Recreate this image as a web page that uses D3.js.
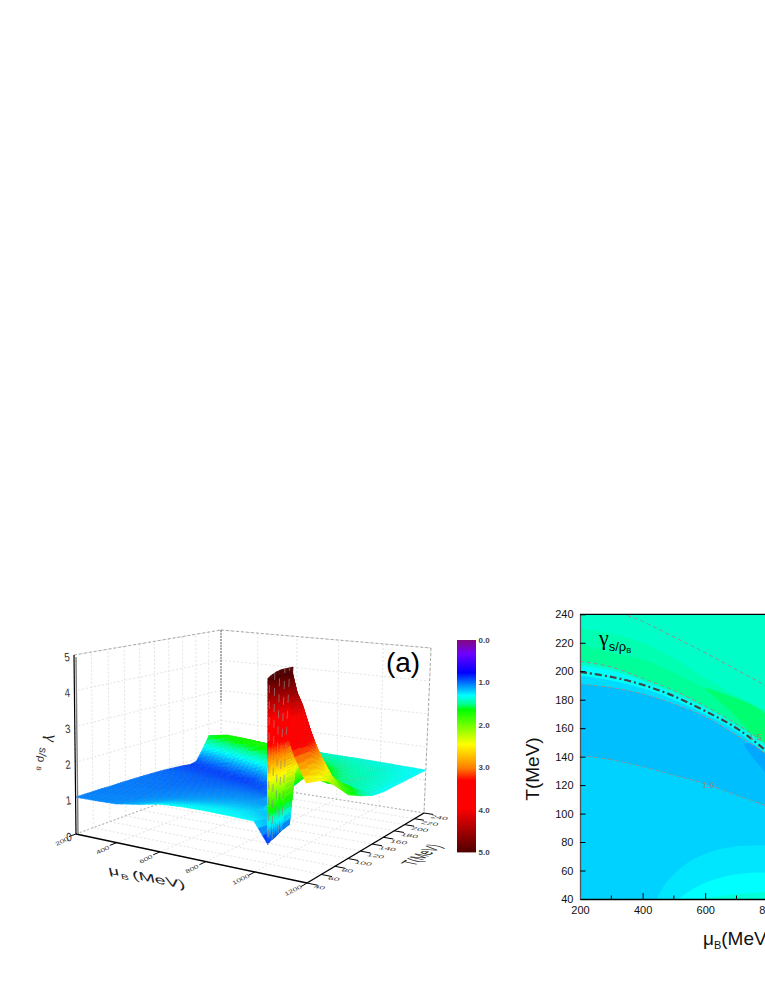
<!DOCTYPE html>
<html><head><meta charset="utf-8">
<script src="https://d3js.org/d3.v7.min.js"></script>
<style>html,body{margin:0;padding:0;background:#fff;overflow:hidden}svg{display:block;font-family:"Liberation Sans",Arial,sans-serif}</style>
</head><body><div id="c"></div>
<script>
// ---------- panel (a) data ----------
const rowsT=[40,50,60,70,80,90,100,120,140,150,160,170,180,190,200,210,220,240];
const colsMu=[200,300,400,500,600,700,800,900,1000,1050,1068,1085,1105,1130,1160,1200];
const zMu200=[1.03,1.03,1.03,1.03,1.02,1.02,1.02,1.01,.99,.98,.96,.94,.92,.88,.92,1.25,1.62,1.45];
const zMu300=[1.04,1.04,1.03,1.03,1.02,1.02,1.01,1.0,.98,.97,.95,.92,.90,.92,1.1,1.45,1.72,1.45];
const zMu400=[1.06,1.05,1.04,1.03,1.03,1.02,1.01,.99,.97,.96,.93,.91,.89,1.0,1.35,1.7,1.68,1.44];
const zMu500=[1.16,1.12,1.09,1.07,1.05,1.04,1.03,1.0,.97,.95,.92,.89,.95,1.25,1.65,1.72,1.62,1.42];
const zMu600=[1.28,1.22,1.17,1.12,1.09,1.07,1.05,1.02,.97,.94,.9,.9,1.15,1.55,1.72,1.68,1.55,1.42];
const zMu700=[1.32,1.27,1.22,1.17,1.13,1.1,1.07,1.03,.96,.92,.95,1.25,1.65,1.75,1.68,1.58,1.5,1.4];
const zMu800=[1.33,1.29,1.25,1.2,1.16,1.12,1.09,1.02,.95,1.15,1.5,1.8,1.75,1.65,1.55,1.5,1.45,1.38];
const zMu900=[1.32,1.28,1.25,1.2,1.16,1.12,1.07,1.3,2.0,1.9,1.8,1.7,1.6,1.52,1.48,1.45,1.42,1.37];
const zMu1000=[1.3,1.24,1.18,1.14,1.3,2.0,2.6,1.95,1.7,1.62,1.55,1.5,1.46,1.44,1.42,1.4,1.38,1.35];
const zMu1050=[.8,.85,.95,1.0,2.6,2.6,2.2,1.75,1.55,1.5,1.47,1.45,1.43,1.42,1.4,1.39,1.37,1.34];
const zMu1068=[5,5,5,5,3.5,2.5,2.0,1.7,1.5,1.47,1.45,1.43,1.42,1.41,1.4,1.38,1.36,1.33];
const zMu1085=[4.7,4.85,4.9,4.5,3.6,2.9,2.3,1.75,1.48,1.45,1.44,1.42,1.41,1.4,1.39,1.37,1.35,1.33];
const zMu1105=[4.3,4.4,4.5,4.2,3.5,2.9,2.3,1.8,1.47,1.44,1.42,1.41,1.4,1.39,1.38,1.36,1.34,1.32];
const zMu1130=[3.7,3.75,3.8,3.5,3.0,2.6,2.1,1.75,1.45,1.42,1.41,1.4,1.38,1.37,1.36,1.35,1.33,1.32];
const zMu1160=[3.1,3.1,3.1,2.9,2.6,2.25,1.9,1.65,1.42,1.4,1.38,1.37,1.36,1.35,1.34,1.33,1.32,1.31];
const zMu1200=[2.5,2.45,2.4,2.3,2.1,1.9,1.7,1.5,1.35,1.32,1.3,1.3,1.3,1.3,1.3,1.3,1.3,1.3];
const surface=[zMu200,zMu300,zMu400,zMu500,zMu600,zMu700,zMu800,zMu900,zMu1000,zMu1050,zMu1068,zMu1085,zMu1105,zMu1130,zMu1160,zMu1200];
// jump wall: top edge and bottom edge
const wallT=[40,42,44,46,48,50,52,54,56,58,60,62,64,66,68,70];
const wallMu=[1064,1064,1065,1065,1066,1066,1067,1067,1068,1068,1069,1069,1070,1070,1071,1071];
const wallTLow=[40,41,42,44,45,46,47,49,50,51,52,53,55,56,57,58];
const wallMuLow=[1053,1053,1054,1054,1055,1055,1056,1056,1057,1057,1058,1058,1059,1059,1060,1060];
const wallLow=[.76,.95,.8,1.0,.84,1.02,.88,1.05,.92,1.08,.96,1.1,1.0,.98,1.18,1.15];
const wallHigh=[5.0,5.03,5.06,5.08,5.1,5.12,5.13,5.14,5.15,5.15,5.15,5.15,5.15,5.15,5.15,5.15];
const muTicks3d=[200,400,600,800,1000,1200];
const tTicks3d=[40,60,80,100,120,140,160,180,200,220,240];
const zTicks3d=[0,1,2,3,4,5];
const barStops=[0,.31,.76,1.03,1.3,1.5,1.63,2.05,2.45,3.0,3.3,3.95,4.55,5];
const barColors=["#800a80","#7000ff","#0000ff","#0080ff","#00ffff","#00ff90","#00ff00","#80ff00","#ffff00","#ff8000","#ff0000","#ff0000","#990000","#500000"];
const barTicks=[0,1,2,3,4,5];
// ---------- panel (b) data ----------
const muGrid=[200,300,400,500,600,700,800,900];
const tBand1=[230,226.5,220,209,195,183,172,160];
const tBand2=[219,213,208,199,188,178,167,150];
const blobGreenMu=[600,650,700,760,830,850,830,790,740,690,640];
const blobGreenT=[188,185,181,175,163,150,140,146,158,170,180];
const tC1=[248,243,235,224,213,201,189,175];
const tC2=[207,203,195,186.5,175.5,163,148,130];
const tCyan=[204,200.5,193,184.5,174,161.5,146,127];
const tDash=[199.5,196,190.5,182.5,172,160,143,122];
const tMid=[197,193.5,188,180,170,158,141,120];
const tC3=[191,188.5,184,177,168,155,141,120];
const tC10=[141,137.8,133,127,121,113,105,96];
const blobBlueMu=[725,745,790,830,830,790,750];
const blobBlueT=[149,149,142,130,110,129,140];
const lowAMu=[445,477,541,616,701,792,900],lowAT=[40,52,65,73,77,77.5,75];
const lowBMu=[515,573,658,722,792,900],lowBT=[40,48.6,55.6,58,58.5,57];
const lowCMu=[587,680,791,900],lowCT=[40,43,45,46];
const muTicksB=[200,400,600,800,1000,1200];
const muMinorB=[300,500,700,900,1100];
const tTicksB=[40,60,80,100,120,140,160,180,200,220,240];

const svg=d3.select("#c").append("svg").attr("width",765).attr("height",990);

// ---------- 3D projection ----------
function homog(q){
  const [x0,y0]=q[0],[x1,y1]=q[1],[x2,y2]=q[2],[x3,y3]=q[3];
  const dx1=x1-x2,dx2=x3-x2,dy1=y1-y2,dy2=y3-y2,sx=x0-x1+x2-x3,sy=y0-y1+y2-y3;
  const d=dx1*dy2-dx2*dy1,g=(sx*dy2-dx2*sy)/d,h=(dx1*sy-sx*dy1)/d;
  const a=x1-x0+g*x1,b=x3-x0+h*x3,c=x0,e=y1-y0+g*y1,f=y3-y0+h*y3,i=y0;
  return (u,v)=>{const w=g*u+h*v+1;return [(a*u+b*v+c)/w,(e*u+f*v+i)/w];};
}
const floorH=homog([[76,834],[307,883],[424,813],[221,781]]);
const topH=homog([[74,655],[305,683],[431,648],[221,630]]);
const uS=d3.scaleLinear().domain([200,1200]).range([0,1]);
const vS=d3.scaleLinear().domain([40,240]).range([0,1]);
const wS=d3.scaleLinear().domain([0,5]).range([0,1]);
function P(mu,T,z){const u=uS(mu),v=vS(T),w=wS(z),a=floorH(u,v),b=topH(u,v);return [a[0]+(b[0]-a[0])*w,a[1]+(b[1]-a[1])*w];}
const line=d3.line();
const cmap=d3.scaleLinear().domain(barStops).range(barColors).clamp(true);

// ---------- grid walls & floor ----------
const g3=svg.append("g");
const lightDash={stroke:"#e0e0e0",w:.9,d:"2 2"};
function seg(a,b,s){g3.append("path").attr("d",line([a,b])).attr("fill","none").attr("stroke",s.stroke).attr("stroke-width",s.w).attr("stroke-dasharray",s.d);}
tTicks3d.forEach(t=>{seg(P(200,t,0),P(200,t,5),lightDash);seg(P(200,t,0),P(1200,t,0),lightDash);});
muTicks3d.forEach(m=>{seg(P(m,240,0),P(m,240,5),lightDash);seg(P(m,40,0),P(m,240,0),lightDash);});
zTicks3d.forEach(z=>{seg(P(200,40,z),P(200,240,z),lightDash);seg(P(200,240,z),P(1200,240,z),lightDash);});
const edge={stroke:"#a0a0a0",w:.9,d:"3 2"};
seg(P(200,40,5),P(200,240,5),edge);seg(P(200,240,5),P(1200,240,5),edge);
seg(P(1200,240,5),P(1200,240,0),edge);
seg(P(200,240,5),P(200,240,2.6),{stroke:"#666",w:1,d:"2 1"});
seg(P(200,40,0),P(200,240,0),{stroke:"#b0b0b0",w:.9,d:"2 2"});
seg(P(200,240,0),P(1200,240,0),{stroke:"#b0b0b0",w:.9,d:"2 2"});

// ---------- surface, back to front ----------
const gs=svg.append("g");
function quad(a,b,c,d,z,dots){
  const col=cmap(z);
  gs.append("path").attr("d",line([a,b,c,d])+"Z").attr("fill",col).attr("stroke",col).attr("stroke-width",.6);
  if(dots) gs.append("path").attr("d",line([a,b])).attr("fill","none").attr("stroke","#777").attr("stroke-opacity",.45).attr("stroke-width",.5).attr("stroke-dasharray","0.8 2.6");
}
for(let j=rowsT.length-2;j>=0;j--){
  for(let i=0;i<colsMu.length-1;i++){
    const T0=rowsT[j],T1=rowsT[j+1],m0=colsMu[i],m1=colsMu[i+1];
    const z00=surface[i][j],z10=surface[i+1][j],z01=surface[i][j+1],z11=surface[i+1][j+1];
    const dz=Math.max(z00,z10,z01,z11)-Math.min(z00,z10,z01,z11);
    const nt=Math.max(2,Math.round((T1-T0)/3.5),Math.ceil(dz*6));
    const nm=Math.max(2,Math.round((m1-m0)/25),Math.ceil(dz*6));
    for(let b=nt-1;b>=0;b--)for(let a=0;a<nm;a++){
      const s0=a/nm,s1=(a+1)/nm,t0=b/nt,t1=(b+1)/nt;
      const zf=(s,t)=>(z00*(1-s)+z10*s)*(1-t)+(z01*(1-s)+z11*s)*t;
      const pt=(s,t)=>P(m0+(m1-m0)*s,T0+(T1-T0)*t,zf(s,t));
      quad(pt(s0,t1),pt(s1,t1),pt(s1,t0),pt(s0,t0),zf((s0+s1)/2,(t0+t1)/2),true);
    }
  }
}
// ---------- jump wall on top ----------
function wallPt(k,f){return P(wallMuLow[k]+(wallMu[k]-wallMuLow[k])*f,wallTLow[k]+(wallT[k]-wallTLow[k])*f,wallLow[k]+(wallHigh[k]-wallLow[k])*f);}
function wallZ(k,f){return wallLow[k]+(wallHigh[k]-wallLow[k])*f;}
for(let k=wallT.length-2;k>=0;k--){
  const steps=44;
  for(let q=0;q<steps;q++){
    const f0=q/steps,f1=(q+1)/steps;
    const zm=(wallZ(k,f0)+wallZ(k,f1)+wallZ(k+1,f0)+wallZ(k+1,f1))/4;
    quad(wallPt(k,f0),wallPt(k+1,f0),wallPt(k+1,f1),wallPt(k,f1),zm,false);
  }
}
wallT.forEach((t,k)=>{ if(k%3===1){
  gs.append("path").attr("d",line([wallPt(k,0),wallPt(k,1)]))
   .attr("fill","none").attr("stroke","#8a8a8a").attr("stroke-opacity",.75).attr("stroke-width",.9).attr("stroke-dasharray","8 8");
}});

// ---------- 3D axes ----------
const ax=svg.append("g");
function axisLine(a,b,w,c){ax.append("path").attr("d",line([a,b])).attr("stroke",c||"#000").attr("stroke-width",w).attr("fill","none");}
axisLine(P(200,40,0),P(1200,40,0),1.4);
axisLine(P(1200,40,0),P(1200,240,0),1.4);
axisLine(P(200,40,0),P(200,40,5),1.2);
const a0=P(200,40,0),a1=P(200,40,5);
axisLine([a0[0]+2,a0[1]],[a1[0]+2,a1[1]+2],1.4,"#808080");
muTicks3d.forEach(m=>{
  axisLine(P(m,40,0),P(m,32,0),1);
  const p=P(m,40,0);
  ax.append("text").attr("transform",`matrix(.88,-.42,.35,.55,${p[0]-13},${p[1]+9})`).attr("font-size",8.5).attr("fill","#333").attr("text-anchor","middle").text(m);
});
tTicks3d.forEach(t=>{
  axisLine(P(1200,t,0),P(1240,t,0),1);
  const p=P(1200,t,0);
  ax.append("text").attr("transform",`matrix(1.12,.16,-.3,.48,${p[0]+6},${p[1]+5})`).attr("font-size",9).attr("fill","#333").text(t);
});
zTicks3d.forEach(z=>{
  const p=P(200,40,z);
  ax.append("text").attr("transform",`matrix(.8,-.08,.1,1,${p[0]-4},${p[1]+(z===0?7:6)})`).attr("font-size",12).attr("fill","#333").attr("text-anchor","end").text(z);
});
ax.append("text").attr("transform","matrix(1.3,.26,.42,.85,110,874)").attr("font-size",15).attr("font-style","italic").attr("fill","#222")
  .html('μ<tspan font-size="9" dy="3">B</tspan><tspan dy="-3"> (MeV)</tspan>');
ax.append("text").attr("transform","matrix(.62,-.42,1.4,.28,414,866)").attr("font-size",14).attr("fill","#222").text("T(MeV)");
ax.append("text").attr("transform","translate(47,734) rotate(100)").attr("font-size",17).attr("fill","#222").attr("font-family","'Liberation Serif',serif").text("γ");
ax.append("text").attr("transform","translate(40,747) rotate(100)").attr("font-size",11).attr("fill","#333").text("s/ρ");
ax.append("text").attr("transform","translate(37,766) rotate(100)").attr("font-size",6.5).attr("fill","#333").text("B");
ax.append("text").attr("x",403).attr("y",672).attr("font-size",28).attr("text-anchor","middle").attr("fill","#000").text("(a)");

// ---------- colour bar ----------
const barY=d3.scaleLinear().domain([0,5]).range([640,852]);
const bar=svg.append("g");
d3.range(0,5,5/212).forEach(z=>{
  bar.append("rect").attr("x",457).attr("y",barY(z)).attr("width",19).attr("height",1.4).attr("fill",cmap(z));
});
barTicks.forEach(t=>{
  bar.append("text").attr("x",478.5).attr("y",barY(t)+3).attr("font-size",8).attr("font-weight","bold").attr("fill","#444").text(t.toFixed(1));
});

// ---------- panel (b) ----------
const x=d3.scaleLinear().domain([200,1200]).range([580,893]);
const y=d3.scaleLinear().domain([40,240]).range([899,614.3]);
const defs=svg.append("defs");
defs.append("clipPath").attr("id","plot").append("rect").attr("x",x(200)).attr("y",y(240)).attr("width",x(1200)-x(200)).attr("height",y(40)-y(240));
const gb=svg.append("g").attr("clip-path","url(#plot)");
gb.append("rect").attr("x",x(200)).attr("y",y(240)).attr("width",x(1200)-x(200)).attr("height",y(40)-y(240)).attr("fill","#00ffc8");
const area=d3.area().x(d=>x(d[0])).y0(y(40)).y1(d=>y(d[1])).curve(d3.curveCatmullRom);
const lineB=d3.line().x(d=>x(d[0])).y(d=>y(d[1])).curve(d3.curveCatmullRom);
const closed=d3.line().x(d=>x(d[0])).y(d=>y(d[1])).curve(d3.curveCatmullRomClosed);
const zipT=(ms,ts)=>ms.map((m,i)=>[m,ts[i]]);
const band=(ts,c)=>gb.append("path").attr("d",area(zipT(muGrid,ts))).attr("fill",c);
band(tBand1,"#00ffb0");
band(tBand2,"#00ff98");
gb.append("path").attr("d",closed(zipT(blobGreenMu,blobGreenT))).attr("fill","#00ff70");
band(tC2,"#00ffc4");
band(tCyan,"#00fff8");
band(tMid,"#00dcff");
band(tC3,"#00bfff");
gb.append("path").attr("d",closed(zipT(blobBlueMu,blobBlueT))).attr("fill","#00a8ff");
band(tC10,"#00d2ff");
gb.append("path").attr("d",area(zipT(lowAMu,lowAT))).attr("fill","#00e6ff");
gb.append("path").attr("d",area(zipT(lowBMu,lowBT))).attr("fill","#00ffff");
gb.append("path").attr("d",area(zipT(lowCMu,lowCT))).attr("fill","#00ffd8");
const dashC=(ts)=>gb.append("path").attr("d",lineB(zipT(muGrid,ts))).attr("fill","none").attr("stroke","#909090").attr("stroke-width",1).attr("stroke-dasharray","4 3");
[tC1,tC2,tC3,tC10].forEach(dashC);
gb.append("path").attr("d",lineB(zipT(muGrid,tDash))).attr("fill","none").attr("stroke","#444").attr("stroke-width",2.2).attr("stroke-dasharray","7 3 2 3");
gb.append("text").attr("x",x(610)).attr("y",y(120)+3).attr("font-size",9).attr("text-anchor","middle").attr("fill","#8a8a8a").text("1.0");
gb.append("text").attr("x",x(760)).attr("y",y(154)+3).attr("font-size",9).attr("text-anchor","middle").attr("fill","#7d9a8a").text("1.5");
// frame
const xAxis=d3.axisBottom(x).tickValues(muTicksB).tickSizeInner(-6).tickSizeOuter(0).tickPadding(7).tickFormat(d3.format("d"));
const gx=svg.append("g").attr("transform",`translate(0,${y(40)})`).call(xAxis);
const yAxis=d3.axisLeft(y).tickValues(tTicksB).tickSizeInner(-5.5).tickSizeOuter(0).tickPadding(6.5).tickFormat(d3.format("d"));
const gy=svg.append("g").attr("transform",`translate(${x(200)},0)`).call(yAxis);
[gx,gy].forEach(g=>{g.selectAll("text").attr("font-size",11).attr("fill","#111").attr("font-family","'Liberation Sans',sans-serif");g.select(".domain").attr("stroke-width",1.3);});
gy.select(".domain").attr("stroke","#555");
svg.append("g").attr("transform",`translate(0,${y(40)})`).selectAll("line").data(muMinorB).join("line").attr("x1",d=>x(d)).attr("x2",d=>x(d)).attr("y1",0).attr("y2",-3.5).attr("stroke","#000");
svg.append("line").attr("x1",x(200)).attr("x2",x(1200)).attr("y1",y(240)).attr("y2",y(240)).attr("stroke","#000").attr("stroke-width",1.2);
svg.append("text").attr("transform",`translate(539,769) rotate(-90)`).attr("text-anchor","middle").attr("font-size",19).attr("fill","#111").text("T(MeV)");
svg.append("text").attr("x",703).attr("y",945).attr("font-size",19).attr("fill","#111")
  .html('μ<tspan font-size="11" dy="4">B</tspan><tspan dy="-4">(MeV)</tspan>');
const lab=svg.append("text").attr("x",599).attr("y",645).attr("fill","#000");
lab.append("tspan").attr("font-family","'Liberation Serif',serif").attr("font-size",22).text("γ");
lab.append("tspan").attr("font-size",13).attr("dy",6).text("s/ρ");
lab.append("tspan").attr("font-size",7.5).attr("dy",2).text("B");
</script></body></html>
